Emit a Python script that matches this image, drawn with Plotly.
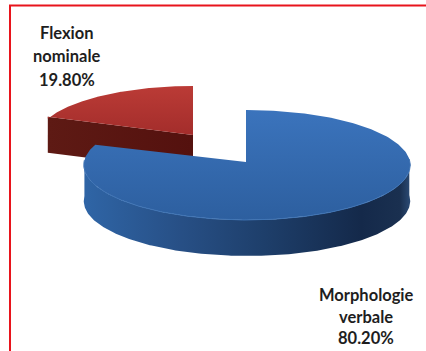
import numpy as np
import plotly.graph_objects as go

categories = ["Morphologie verbale", "Flexion nominale"]
shares = [80.20, 19.80]
label_lines = [["Morphologie", "verbale"], ["Flexion", "nominale"]]

# Pixel-like plot space so the disc can be laid out directly
WIDTH, HEIGHT = 426, 351
DEPTH = 36
TILT = 0.0545  # foreshortening: the near edge of the disc reads slightly larger


def disc_points(cx, cy, rx, ry, start_deg, stop_deg, n=240):
    """Points on a tilted disc rim; angles run clockwise from twelve o'clock."""
    t = np.radians(np.linspace(start_deg, stop_deg, n))
    u, v = np.sin(t), -np.cos(t)
    scale = 1 / (1 - TILT * v)
    return cx + rx * u * scale, cy + ry * v * scale


def add_fill(fig, x, y, gradient_type, scale, start, stop):
    fig.add_trace(go.Scatter(
        x=x, y=y, mode="lines", line=dict(width=0), fill="toself",
        fillgradient=dict(type=gradient_type, colorscale=scale, start=start, stop=stop),
        hoverinfo="skip", showlegend=False,
    ))


blue_sweep = shares[0] * 3.6
red_start = blue_sweep

fig = go.Figure()

# Detached slice: the small share, starting where the large one ends
rcx, rcy, rrx, rry = 193, 135, 156, 51.7
x, y = disc_points(rcx, rcy, rrx, rry, red_start, 360)
add_fill(
    fig,
    np.r_[x[0], rcx, rcx, x[0], x[0]],
    np.r_[y[0] - 2, rcy, rcy + DEPTH, y[0] + DEPTH - 2, y[0] - 2],
    "horizontal", [[0, "#5e1a14"], [1, "#54110e"]], 48, 193,
)
add_fill(
    fig,
    np.r_[rcx, x[0], x, rcx],
    np.r_[rcy, y[0] - 2, y, rcy],
    "vertical", [[0, "#bb3b36"], [1, "#a32d2b"]], 86, 135,
)

# Main slice: rim first, then the top surface over it
apex_x, apex_y = 246, 162
bcx, bry, brx = 247, 54.8, 163
ax, ay = disc_points(bcx, apex_y, brx, bry, 87, 272)
add_fill(
    fig,
    np.r_[ax, ax[::-1]],
    np.r_[ay, ay[::-1] + DEPTH],
    "horizontal",
    [[0, "#2f65a6"], [0.3, "#274f85"], [0.55, "#1e3f6b"], [0.85, "#14294a"], [0.97, "#1a3050"], [1, "#2b4a73"]],
    84, 410,
)
x, y = disc_points(bcx, apex_y, brx, bry, 0, blue_sweep)
add_fill(
    fig,
    np.r_[apex_x, apex_x, x, apex_x],
    np.r_[apex_y, y[0], y, apex_y],
    "vertical", [[0, "#3b74bd"], [1, "#2d5f9f"]], 108, 220,
)

# Thin highlight where the top surface meets the rim
fig.add_trace(go.Scatter(
    x=ax, y=ay, mode="lines", line=dict(color="#3f74b5", width=1),
    hoverinfo="skip", showlegend=False,
))

# Slice labels, each stack of lines placed on its own rows
for lines, share, cx, rows in [
    (label_lines[0], shares[0], 366, [295, 317, 338]),
    (label_lines[1], shares[1], 66.5, [33, 56, 80]),
]:
    for part, row in zip(lines + [f"{share:.2f}%"], rows):
        fig.add_annotation(
            x=cx, y=row, text=f"<b>{part}</b>", showarrow=False,
            font=dict(family="Lato", size=16.5, color="#1e1e1e"),
        )

# Red frame, open at the right and bottom edges of the page
fig.add_shape(type="line", x0=10, x1=10, y0=5, y1=HEIGHT, line=dict(color="#e8141c", width=2))
fig.add_shape(type="line", x0=9, x1=WIDTH, y0=5.5, y1=5.5, line=dict(color="#e8141c", width=2))

fig.update_layout(
    width=WIDTH, height=HEIGHT, margin=dict(l=0, r=0, t=0, b=0),
    paper_bgcolor="white", plot_bgcolor="white", showlegend=False,
    xaxis=dict(range=[0, WIDTH], visible=False, fixedrange=True),
    yaxis=dict(range=[HEIGHT, 0], visible=False, fixedrange=True),
)

fig.write_html("out.html", config={"displayModeBar": False})
